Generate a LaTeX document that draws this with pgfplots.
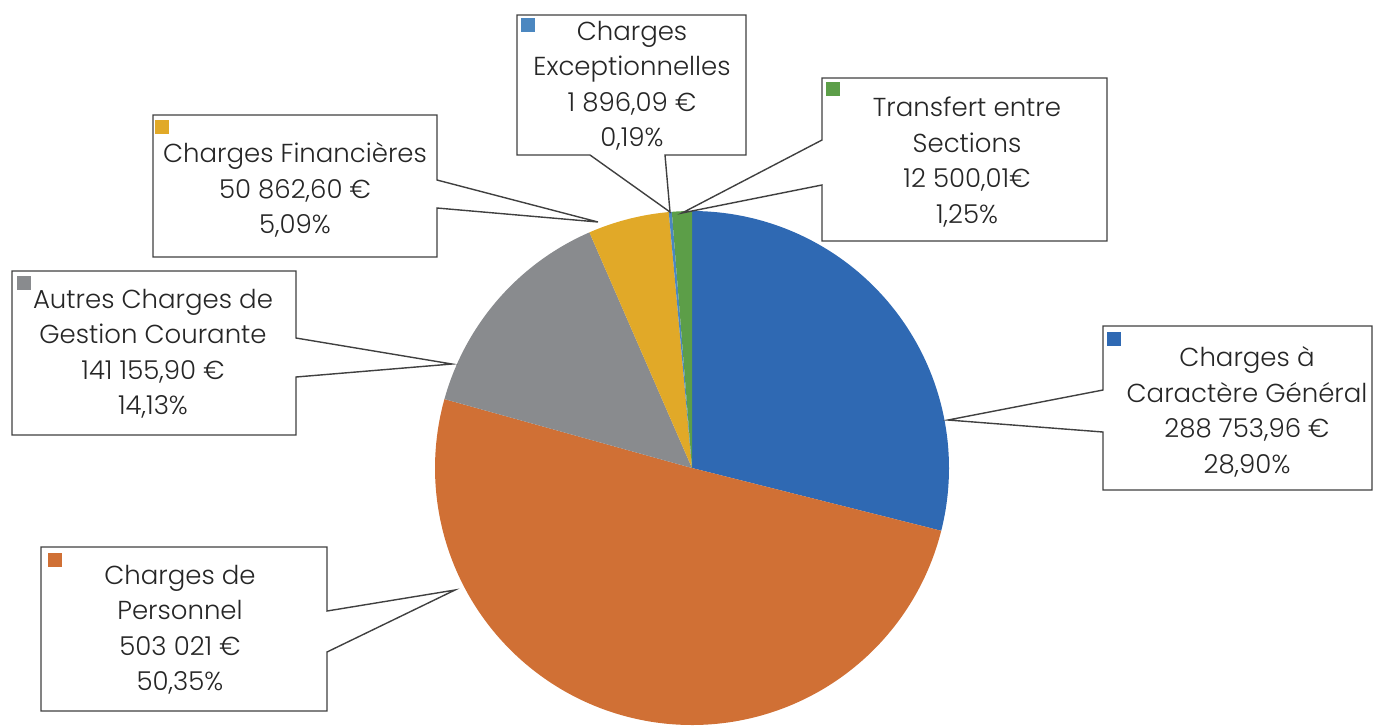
\documentclass[border=0pt]{standalone}
\usepackage{pgfplots}
\pgfplotsset{compat=1.18}
\usepackage{fontspec}
\setmainfont{Poppins}[UprightFont=* Light]

\definecolor{cGen}{HTML}{2F69B3}
\definecolor{cPers}{HTML}{D07035}
\definecolor{cAut}{HTML}{898B8E}
\definecolor{cFin}{HTML}{E1A928}
\definecolor{cExc}{HTML}{4B87C0}
\definecolor{cTra}{HTML}{5C9E48}
\definecolor{txt}{HTML}{262626}

% shares in percent, clockwise from 12 o'clock
\def\pGen{28.90}
\def\pPers{50.35}
\def\pAut{14.13}
\def\pFin{5.09}
\def\pExc{0.19}
\def\pTra{1.25}

\begin{document}
\begin{tikzpicture}[
    co/.style={draw=black!75, fill=white, line width=0.7pt, line join=miter},
    lbl/.style={align=center, text=txt, font=\fontsize{13}{17.75}\selectfont},
  ]
  \pgfmathsetmacro\tot{\pGen+\pPers+\pAut+\pFin+\pExc+\pTra}
  \pgfmathsetmacro\k{360/\tot}
  \pgfmathsetmacro\aA{90}
  \pgfmathsetmacro\aB{\aA-\k*\pGen}
  \pgfmathsetmacro\aC{\aB-\k*\pPers}
  \pgfmathsetmacro\aD{\aC-\k*\pAut}
  \pgfmathsetmacro\aE{\aD-\k*\pFin}
  \pgfmathsetmacro\aF{\aE-\k*\pExc}
  \pgfmathsetmacro\aG{\aF-\k*\pTra}
  \begin{axis}[x=0.5pt, y=0.5pt, xmin=0, xmax=1380, ymin=0, ymax=725,
      y dir=reverse, hide axis, clip=false]
    \path (axis cs:0,0) rectangle (axis cs:1380,725);
    % --- pie slices (centre 692,468, radius 257) ---
    \addplot[fill=cGen, draw=none, domain=\aB:\aA, samples=120, variable=\t]
    ({692+257*cos(\t)},{468-257*sin(\t)}) -- (axis cs:692,468) -- cycle;
    \addplot[fill=cPers, draw=none, domain=\aC:\aB, samples=200, variable=\t]
    ({692+257*cos(\t)},{468-257*sin(\t)}) -- (axis cs:692,468) -- cycle;
    \addplot[fill=cAut, draw=none, domain=\aD:\aC, samples=60, variable=\t]
    ({692+257*cos(\t)},{468-257*sin(\t)}) -- (axis cs:692,468) -- cycle;
    \addplot[fill=cFin, draw=none, domain=\aE:\aD, samples=30, variable=\t]
    ({692+257*cos(\t)},{468-257*sin(\t)}) -- (axis cs:692,468) -- cycle;
    \addplot[fill=cExc, draw=none, domain=\aF:\aE, samples=3, variable=\t]
    ({692+257*cos(\t)},{468-257*sin(\t)}) -- (axis cs:692,468) -- cycle;
    \addplot[fill=cTra, draw=none, domain=\aG:\aF, samples=5, variable=\t]
    ({692+257*cos(\t)},{468-257*sin(\t)}) -- (axis cs:692,468) -- cycle;

    % --- callouts ---
    \draw[co] (axis cs:517,15) -- (axis cs:746,15) -- (axis cs:746,155) -- (axis cs:665,155)
      -- (axis cs:670,212) -- (axis cs:590,155) -- (axis cs:517,155) -- cycle;
    \draw[co] (axis cs:822,78) -- (axis cs:1107,78) -- (axis cs:1107,241) -- (axis cs:822,241)
      -- (axis cs:822,185) -- (axis cs:682,213) -- (axis cs:822,140) -- cycle;
    \draw[co] (axis cs:153,115) -- (axis cs:437,115) -- (axis cs:437,180) -- (axis cs:598,222)
      -- (axis cs:437,208) -- (axis cs:437,257) -- (axis cs:153,257) -- cycle;
    \draw[co] (axis cs:12,271) -- (axis cs:296,271) -- (axis cs:296,338) -- (axis cs:452,364)
      -- (axis cs:296,377) -- (axis cs:296,435) -- (axis cs:12,435) -- cycle;
    \draw[co] (axis cs:1103,326) -- (axis cs:1372,326) -- (axis cs:1372,490) -- (axis cs:1103,490)
      -- (axis cs:1103,432) -- (axis cs:948,420) -- (axis cs:1103,390) -- cycle;
    \draw[co] (axis cs:41,547) -- (axis cs:327,547) -- (axis cs:327,611) -- (axis cs:455,590)
      -- (axis cs:327,652) -- (axis cs:327,711) -- (axis cs:41,711) -- cycle;

    % --- legend keys ---
    \fill[cExc] (axis cs:521,18) rectangle (axis cs:535,32);
    \fill[cTra] (axis cs:826,82) rectangle (axis cs:840,96);
    \fill[cFin] (axis cs:155,120) rectangle (axis cs:169,134);
    \fill[cAut] (axis cs:17,276) rectangle (axis cs:31,290);
    \fill[cGen] (axis cs:1107,332) rectangle (axis cs:1121,346);
    \fill[cPers] (axis cs:48,553) rectangle (axis cs:62,567);

    % --- labels ---
    \node[lbl] at (axis cs:632,86) {Charges\\Exceptionnelles\\1 896,09 €\\0,19\%};
    \node[lbl] at (axis cs:967,162) {Transfert entre\\Sections\\12 500,01€\\1,25\%};
    \node[lbl] at (axis cs:295,190) {Charges Financières\\50 862,60 €\\5,09\%};
    \node[lbl] at (axis cs:153,354) {Autres Charges de\\Gestion Courante\\141 155,90 €\\14,13\%};
    \node[lbl] at (axis cs:1247,412) {Charges à\\Caractère Général\\288 753,96 €\\28,90\%};
    \node[lbl] at (axis cs:180,630) {Charges de\\Personnel\\503 021 €\\50,35\%};
  \end{axis}
\end{tikzpicture}
\end{document}
